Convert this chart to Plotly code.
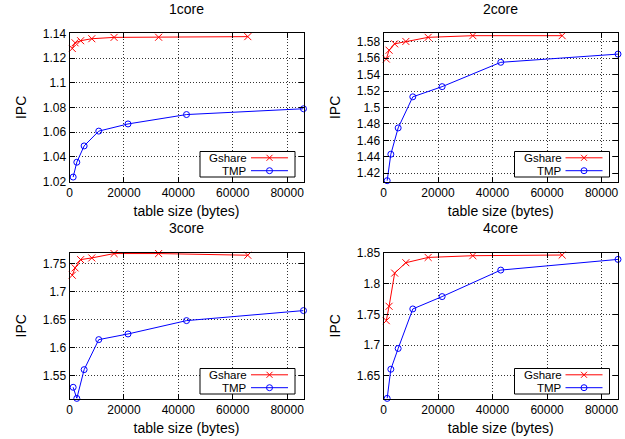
import plotly.graph_objects as go

W, H = 625, 439

titles = ["1core", "2core", "3core", "4core"]
series_names = ["Gshare", "TMP"]

gshare_size = [1024, 2048, 4096, 8192, 16384, 32768, 65536]
tmp_size = [1344, 2688, 5376, 10752, 21504, 43008, 86016]

gshare_1core = [1.1277, 1.1323, 1.1340, 1.1356, 1.1367, 1.1368, 1.1373]
tmp_1core = [1.0236, 1.0356, 1.0488, 1.0608, 1.0666, 1.0742, 1.0789]

gshare_2core = [1.5590, 1.5697, 1.5775, 1.5804, 1.5854, 1.5874, 1.5874]
tmp_2core = [1.4110, 1.4432, 1.4752, 1.5130, 1.5254, 1.5550, 1.5650]

gshare_3core = [1.7298, 1.7429, 1.7577, 1.7607, 1.7685, 1.7685, 1.7655]
tmp_3core = [1.5298, 1.5100, 1.5613, 1.6149, 1.6250, 1.6488, 1.6667]

gshare_4core = [1.7399, 1.7633, 1.8173, 1.8342, 1.8428, 1.8456, 1.8467]
tmp_4core = [1.6135, 1.6609, 1.6947, 1.7590, 1.7791, 1.8222, 1.8396]

y_ranges = [[1.02, 1.14], [1.41, 1.5903], [1.5098, 1.7695], [1.6133, 1.85]]
y_dticks = [0.02, 0.02, 0.05, 0.05]
x_range = [0, 86016]
x_dtick = 20000

gshare_all = [gshare_1core, gshare_2core, gshare_3core, gshare_4core]
tmp_all = [tmp_1core, tmp_2core, tmp_3core, tmp_4core]

RED = "#ff0000"
BLUE = "#0000ff"
FONT = "Liberation Sans, Arial, sans-serif"

# plot areas in pixels: (left, right, top, bottom)
boxes = [
    (69.5, 303.5, 33.3, 181.5),
    (383.5, 618.0, 33.3, 181.5),
    (69.5, 303.5, 253.0, 398.5),
    (383.5, 618.0, 253.0, 398.5),
]
title_offsets = [24.3, 24.3, 25.0, 25.0]

def fx(p):
    return p / W

def fy(p):
    return 1 - p / H

fig = go.Figure()
shapes = []
annotations = []

for i in range(4):
    l, r, t, b = boxes[i]
    sfx = "" if i == 0 else str(i + 1)
    xa = "x" + sfx
    ya = "y" + sfx
    fig.add_trace(go.Scatter(
        x=gshare_size, y=gshare_all[i], name=series_names[0], mode="lines+markers",
        xaxis=xa, yaxis=ya, showlegend=False, cliponaxis=False,
        line=dict(color=RED, width=1),
        marker=dict(symbol="x-thin-open", size=7, line=dict(color=RED, width=1)),
    ))
    fig.add_trace(go.Scatter(
        x=tmp_size, y=tmp_all[i], name=series_names[1], mode="lines+markers",
        xaxis=xa, yaxis=ya, showlegend=False, cliponaxis=False,
        line=dict(color=BLUE, width=1),
        marker=dict(symbol="circle-open", size=6, line=dict(color=BLUE, width=1)),
    ))
    axis_common = dict(
        showline=True, linecolor="black", linewidth=1, mirror="allticks",
        ticks="inside", ticklen=5, tickcolor="black", tickwidth=1,
        showgrid=True, gridcolor="#333333", griddash="1px,2px", gridwidth=0.7,
        zeroline=False, automargin=False,
        tickfont=dict(family=FONT, size=12, color="black"),
    )
    fig.layout["xaxis" + sfx] = dict(
        axis_common, domain=[fx(l), fx(r)], anchor=ya, range=x_range,
        tickmode="linear", tick0=0, dtick=x_dtick, tickformat="d",
        title=dict(text="table size (bytes)", font=dict(family=FONT, size=14, color="black"), standoff=7),
    )
    fig.layout["yaxis" + sfx] = dict(
        axis_common, domain=[fy(b), fy(t)], anchor=xa, range=y_ranges[i],
        tickmode="linear", tick0=0, dtick=y_dticks[i],
        title=dict(text="IPC", font=dict(family=FONT, size=14, color="black"), standoff=12),
    )
    # subplot title
    annotations.append(dict(
        text=titles[i], x=fx((l + r) / 2), y=fy(t - title_offsets[i]), xref="paper", yref="paper",
        xanchor="center", yanchor="middle", showarrow=False,
        font=dict(family=FONT, size=14, color="black"),
    ))
    # key box (opaque, like gnuplot key)
    kr = r - 8.5
    kb = b - 4.5
    kl = kr - 95
    kt = kb - 25.5
    shapes.append(dict(type="rect", xref="paper", yref="paper",
                       x0=fx(kl), x1=fx(kr), y0=fy(kb), y1=fy(kt),
                       line=dict(color="black", width=1), fillcolor="white", layer="above"))
    rows = [kt + 6.3, kt + 19.2]
    colors = [RED, BLUE]
    for j in range(2):
        yy = rows[j]
        annotations.append(dict(
            text=series_names[j], x=fx(kl + 48), y=fy(yy), xref="paper", yref="paper",
            xanchor="right", yanchor="middle", showarrow=False, borderpad=0,
            font=dict(family=FONT, size=11.5, color="black"),
        ))
        shapes.append(dict(type="line", xref="paper", yref="paper",
                           x0=fx(kl + 51), x1=fx(kl + 88), y0=fy(yy), y1=fy(yy),
                           line=dict(color=colors[j], width=1), layer="above"))
        cx = kl + 69.5
        if j == 0:
            for d in (1, -1):
                shapes.append(dict(type="line", xref="paper", yref="paper",
                                   x0=fx(cx - 3), x1=fx(cx + 3), y0=fy(yy - 3 * d), y1=fy(yy + 3 * d),
                                   line=dict(color=RED, width=1), layer="above"))
        else:
            shapes.append(dict(type="circle", xref="paper", yref="paper",
                               x0=fx(cx - 3), x1=fx(cx + 3), y0=fy(yy + 3), y1=fy(yy - 3),
                               line=dict(color=BLUE, width=1), fillcolor="rgba(0,0,0,0)", layer="above"))

fig.update_layout(
    width=W, height=H, margin=dict(l=0, r=0, t=0, b=0),
    paper_bgcolor="white", plot_bgcolor="white",
    font=dict(family=FONT, color="black"),
    shapes=shapes, annotations=annotations, showlegend=False,
)

fig.write_html("out.html", config={"displayModeBar": False},
               post_script="document.body.style.margin='0px';")
